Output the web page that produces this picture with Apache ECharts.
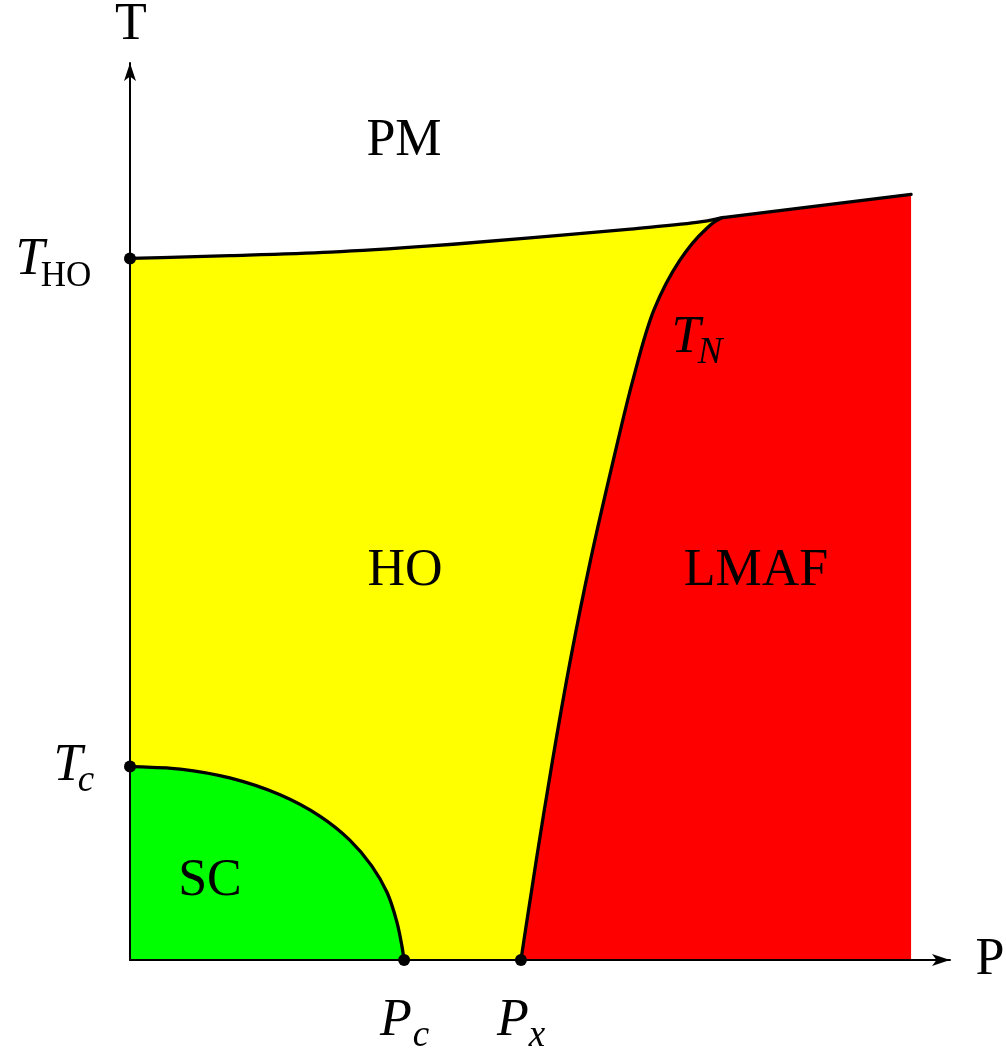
<!DOCTYPE html>
<html>
<head>
<meta charset="utf-8">
<script src="https://cdn.jsdelivr.net/npm/echarts@6/dist/echarts.min.js"></script>
<style>
  html, body { margin: 0; padding: 0; background: #fff; }
  #chart { width: 1006px; height: 1053px; }
</style>
</head>
<body>
<div id="chart"></div>
<script>
// Phase boundaries, pressure P (arbitrary units) vs temperature T (arbitrary units)

// PM / HO boundary (hidden-order transition line)
const hoLineP = [0, 1.23, 2.47, 3.70, 4.93, 6.17, 7.03, 7.31];
const hoLineT = [7.90, 7.93, 7.97, 8.04, 8.13, 8.23, 8.31, 8.36];

// HO / LMAF boundary T_N, ending at the point where it meets the PM line
const tnLineP = [4.82, 5.01, 5.21, 5.43, 5.68, 5.96, 6.20, 6.46, 6.78, 7.09, 7.31];
const tnLineT = [0, 1.13, 2.25, 3.38, 4.51, 5.63, 6.53, 7.32, 7.88, 8.22, 8.36];

// PM / LMAF boundary, straight from that point onwards
const pmLmafP = [7.31, 9.63];
const pmLmafT = [8.36, 8.62];

// Superconducting dome
const scLineP = [0, 0.62, 1.23, 1.85, 2.34, 2.71, 2.98, 3.17, 3.29, 3.35, 3.38];
const scLineT = [2.18, 2.15, 2.05, 1.86, 1.62, 1.35, 1.06, 0.76, 0.43, 0.17, 0];

// Marked points: T_HO, T_c, P_c, P_x
const markP = [0, 0, 3.38, 4.82];
const markT = [7.90, 2.18, 0, 0];

const zip = (xs, ys) => xs.map((x, i) => [x, ys[i]]);
const f = v => v.toFixed(2);

// Centripetal Catmull-Rom through pixel points, written as cubic Bezier path commands.
// `after` (optional) is the point that follows the curve, used for its end tangent.
function splineCommands(pts, after) {
  const n = pts.length;
  const dist = (a, b) => Math.hypot(a[0] - b[0], a[1] - b[1]);
  const reflect = (a, b) => [2 * a[0] - b[0], 2 * a[1] - b[1]];
  let d = '';
  for (let i = 0; i < n - 1; i++) {
    const p0 = i > 0 ? pts[i - 1] : reflect(pts[0], pts[1]);
    const p1 = pts[i];
    const p2 = pts[i + 1];
    const p3 = i + 2 < n ? pts[i + 2] : (after || reflect(pts[n - 1], pts[n - 2]));
    const t1 = Math.sqrt(dist(p0, p1)) || 1e-6;
    const t2 = Math.sqrt(dist(p1, p2)) || 1e-6;
    const t3 = Math.sqrt(dist(p2, p3)) || 1e-6;
    const b1 = [0, 1].map(k =>
      (t1 * t1 * p2[k] - t2 * t2 * p0[k] + (2 * t1 * t1 + 3 * t1 * t2 + t2 * t2) * p1[k]) / (3 * t1 * (t1 + t2)));
    const b2 = [0, 1].map(k =>
      (t3 * t3 * p1[k] - t2 * t2 * p3[k] + (2 * t3 * t3 + 3 * t3 * t2 + t2 * t2) * p2[k]) / (3 * t3 * (t3 + t2)));
    d += ' C' + f(b1[0]) + ',' + f(b1[1]) + ' ' + f(b2[0]) + ',' + f(b2[1]) + ' ' + f(p2[0]) + ',' + f(p2[1]);
  }
  return d;
}

// One filled phase region: straight edges `before`, a smooth curve, straight continuation
// `straight` (also stroked), then straight closing edges `after` back along the axes
function regionSeries(name, color, z, curveP, curveT, before, straight, after) {
  return {
    name: name, type: 'custom', z: z, silent: true,
    data: [[curveP[0], curveT[0]]],
    renderItem: function (params, api) {
      const curve = curveP.map((p, i) => api.coord([p, curveT[i]]));
      const head = before.map(v => api.coord(v));
      const line = straight.map(v => api.coord(v));
      const tail = after.map(v => api.coord(v));
      const lineCmds = line.map(pt => ' L' + f(pt[0]) + ',' + f(pt[1])).join('');
      const boundary = 'M' + f(curve[0][0]) + ',' + f(curve[0][1]) + splineCommands(curve, line[0]) + lineCmds;
      let fillPath;
      if (head.length) {
        fillPath = 'M' + f(head[0][0]) + ',' + f(head[0][1]) +
          head.slice(1).map(pt => ' L' + f(pt[0]) + ',' + f(pt[1])).join('') +
          ' L' + boundary.slice(1);
      } else {
        fillPath = boundary;
      }
      fillPath += tail.map(pt => ' L' + f(pt[0]) + ',' + f(pt[1])).join('') + ' Z';
      return {
        type: 'group',
        children: [
          { type: 'path', shape: { pathData: fillPath }, style: { fill: color, stroke: null } },
          { type: 'path', shape: { pathData: boundary },
            style: { fill: 'none', stroke: '#000', lineWidth: 3.3, lineJoin: 'round', lineCap: 'round' } }
        ]
      };
    }
  };
}

const SERIF = '"Liberation Serif", "Times New Roman", Times, serif';

function txt(text, x, y, size, italic) {
  return {
    type: 'text',
    x: x, y: y,
    z: 100,
    style: {
      text: text,
      font: (italic ? 'italic ' : '') + size + 'px ' + SERIF,
      fill: '#000',
      align: 'center', verticalAlign: 'middle',
      textAlign: 'center', textVerticalAlign: 'middle'
    }
  };
}

const chart = echarts.init(document.getElementById('chart'), null, { renderer: 'canvas' });

const lastHo = hoLineP.length - 1;
const lastPmLmaf = pmLmafP.length - 1;

const axisArrowLine = {
  show: true, onZero: false, symbol: ['none', 'arrow'], symbolSize: [9, 18],
  lineStyle: { color: '#000', width: 2 }
};

chart.setOption({
  animation: false,
  backgroundColor: '#fff',
  grid: { left: 130, right: 56, top: 63, bottom: 93, containLabel: false },
  xAxis: {
    type: 'value', min: 0, max: 10.11, z: 5,
    axisLine: axisArrowLine,
    axisTick: { show: false }, axisLabel: { show: false }, splitLine: { show: false }
  },
  yAxis: {
    type: 'value', min: 0, max: 10.1, z: 5,
    axisLine: axisArrowLine,
    axisTick: { show: false }, axisLabel: { show: false }, splitLine: { show: false }
  },
  series: [
    // HO: under the PM/HO line, down to the pressure axis
    regionSeries('HO', '#ffff00', 2, hoLineP, hoLineT,
      [[0, 0]], [], [[hoLineP[lastHo], 0]]),
    // LMAF: right of T_N, under the PM/LMAF line
    regionSeries('LMAF', '#ff0000', 3, tnLineP, tnLineT,
      [], zip(pmLmafP, pmLmafT).slice(1), [[pmLmafP[lastPmLmaf], 0]]),
    // SC dome in the low-pressure, low-temperature corner
    regionSeries('SC', '#00ff00', 4, scLineP, scLineT,
      [[0, 0]], [], []),
    {
      name: 'points', type: 'scatter', z: 8, symbol: 'circle', symbolSize: 12,
      data: zip(markP, markT),
      itemStyle: { color: '#000', opacity: 1 }
    }
  ],
  graphic: [
    // axis titles
    txt('T', 131, 25, 52, false),
    txt('P', 990, 960, 52, false),
    // phase names
    txt('PM', 404, 141, 52, false),
    txt('HO', 405, 571, 52, false),
    txt('LMAF', 756, 571, 52, false),
    txt('SC', 210, 881, 52, false),
    // T_HO
    txt('T', 30, 260, 52, true),
    txt('HO', 66, 277, 35, false),
    // T_c
    txt('T', 68, 766, 52, true),
    txt('c', 86, 781, 37, true),
    // T_N
    txt('T', 686, 338, 52, true),
    txt('N', 710, 353, 37, true),
    // P_c
    txt('P', 396, 1021, 52, true),
    txt('c', 421, 1036, 37, true),
    // P_x
    txt('P', 513, 1021, 52, true),
    txt('x', 537, 1036, 37, true)
  ]
});
</script>
</body>
</html>
